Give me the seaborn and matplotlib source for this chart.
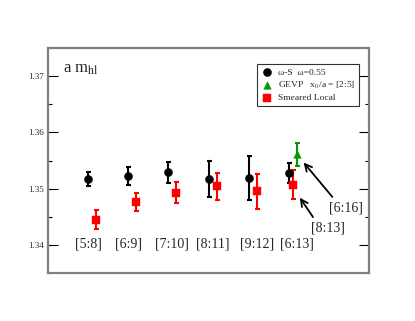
import matplotlib
matplotlib.use("Agg")
import matplotlib.pyplot as plt
import seaborn as sns
import pandas as pd

# ---- data ----
fit_labels = ["[5:8]", "[6:9]", "[7:10]", "[8:11]", "[9:12]", "[6:13]"]
label_x = [1.0, 2.0, 3.1, 4.1, 5.2, 6.2]

ws_x = [1, 2, 3, 4, 5, 6]
ws_y = [1.3517, 1.3523, 1.3529, 1.3517, 1.3519, 1.3528]
ws_err = [0.0013, 0.0016, 0.0019, 0.0032, 0.0039, 0.0018]

sl_x = [1.2, 2.2, 3.2, 4.2, 5.2, 6.1]
sl_y = [1.3445, 1.3476, 1.3493, 1.3504, 1.3495, 1.3507]
sl_err = [0.0017, 0.0016, 0.0019, 0.0024, 0.0031, 0.0026]

gevp_x = [6.2]
gevp_y = [1.3561]
gevp_err = [0.0020]

sns.set_style("ticks")
plt.rcParams['font.family'] = ['Liberation Serif', 'DejaVu Serif']
plt.rcParams['mathtext.fontset'] = 'stix'

fig = plt.figure(figsize=(4.15, 3.21), dpi=100)
ax = fig.add_axes([0.1157, 0.1495, 0.7735, 0.701])

series = [
    ("ω-S  ω=0.55", ws_x, ws_y, ws_err, "black", "o", 34),
    ("GEVP   x$_0$/a = [2:5]", gevp_x, gevp_y, gevp_err, "#009900", "^", 30),
    ("Smeared Local", sl_x, sl_y, sl_err, "red", "s", 26),
]
for name, xs, ys, es, col, mk, sz in series:
    ax.errorbar(xs, ys, yerr=es, fmt="none", ecolor=col, elinewidth=1.5,
                capsize=1.8, capthick=1.5, zorder=2)
    df = pd.DataFrame({"x": xs, "y": ys})
    sns.scatterplot(data=df, x="x", y="y", ax=ax, color=col, marker=mk,
                    s=sz, edgecolor=col, linewidth=0.3, label=name, zorder=3)

ax.set_xlim(0, 8)
ax.set_ylim(1.335, 1.375)
ax.set_xlabel("")
ax.set_ylabel("")
ax.set_xticks([])
ax.set_yticks([1.34, 1.35, 1.36, 1.37])
ax.set_yticklabels(["1.34", "1.35", "1.36", "1.37"], fontsize=6.5)
ax.set_yticks([1.335, 1.345, 1.355, 1.365, 1.375], minor=True)
ax.tick_params(axis="y", which="major", direction="in", length=7, width=0.8,
               color="black", left=True, right=True, labelleft=True, pad=3)
ax.tick_params(axis="y", which="minor", direction="in", length=3, width=0.8,
               color="black", left=True, right=True)
for sp in ax.spines.values():
    sp.set_visible(True)
    sp.set_color("#808080")
    sp.set_linewidth(1.6)

for lab, lx in zip(fit_labels, label_x):
    ax.text(lx, 1.3402, lab, ha="center", va="center", fontsize=10)

ax.text(0.047, 0.905, r"a m$_{\rm hl}$", transform=ax.transAxes,
        ha="left", va="center", fontsize=12)

ax.annotate("[6:16]", xy=(6.37, 1.35464), xytext=(7.43, 1.3466),
            ha="center", va="center", fontsize=10,
            arrowprops=dict(arrowstyle="->,head_length=0.5,head_width=0.25",
                            color="black", lw=1.3, relpos=(0.2, 1.0),
                            shrinkA=1, shrinkB=0))
ax.annotate("[8:13]", xy=(6.275, 1.3484), xytext=(6.975, 1.3430),
            ha="center", va="center", fontsize=10,
            arrowprops=dict(arrowstyle="->,head_length=0.5,head_width=0.25",
                            color="black", lw=1.3, relpos=(0.15, 1.0),
                            shrinkA=1, shrinkB=0))

leg = ax.legend(loc="upper left", bbox_to_anchor=(0.652, 0.928),
                borderaxespad=0, fontsize=6.8, frameon=True, fancybox=False,
                handletextpad=0.6, borderpad=0.4, labelspacing=0.3,
                handlelength=1.2, markerscale=1.0)
leg.get_frame().set_edgecolor("black")
leg.get_frame().set_linewidth(0.8)

fig.savefig("out.png", dpi=100)
